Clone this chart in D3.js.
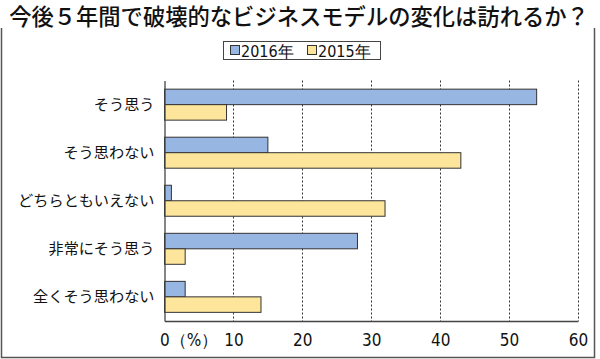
<!DOCTYPE html>
<html><head><meta charset="utf-8">
<script src="https://cdn.jsdelivr.net/npm/d3@7"></script>
<style>
body{margin:0;background:#fff;}
svg{display:block;}
</style></head>
<body>
<script>
const title = "今後５年間で破壊的なビジネスモデルの変化は訪れるか？";
const categories = ["そう思う","そう思わない","どちらともいえない","非常にそう思う","全くそう思わない"];
const seriesNames = ["2016年","2015年"];
const values2016 = [54, 15, 1, 28, 3];
const values2015 = [9, 43, 32, 3, 14];
const xTicks = [0,10,20,30,40,50,60];
const colors = ["#98b6e2","#fde59c"];

const W=600,H=359;
const svg=d3.select("body").append("svg").attr("width",W).attr("height",H);
const jp="'Noto Sans CJK JP','Noto Sans',sans-serif";
const num="'Liberation Sans Narrow','DejaVu Sans Condensed','Liberation Sans',sans-serif";

// frame
svg.append("path").attr("d","M1.5,28 V357.5 H594.5 V28").attr("fill","none").attr("stroke","#555").attr("stroke-width",1.5);

svg.append("text").attr("x",299).attr("y",25).attr("text-anchor","middle")
  .attr("font-family",jp).attr("font-size",22.3).attr("font-weight",500).attr("fill","#111").text(title);

const m={l:164.5,r:578,t:80.5,b:321};
const x=d3.scaleLinear().domain([0,60]).range([m.l,m.r]);
const y=d3.scaleBand().domain(categories).range([m.t,m.b]).paddingInner(0.355).paddingOuter(0.18);
const ys=d3.scaleBand().domain(seriesNames).range([0,y.bandwidth()]);

// grid
svg.append("g").selectAll("line").data(xTicks.slice(1)).join("line")
  .attr("x1",d=>Math.round(x(d))+0.5).attr("x2",d=>Math.round(x(d))+0.5)
  .attr("y1",m.t).attr("y2",m.b).attr("stroke","#333").attr("stroke-width",1).attr("stroke-dasharray","2,2");

// bars
const data=[values2016,values2015];
seriesNames.forEach((s,i)=>{
  svg.append("g").selectAll("rect").data(categories).join("rect")
    .attr("x",x(0)).attr("y",c=>y(c)+ys(s))
    .attr("width",(c,j)=>x(data[i][j])-x(0)).attr("height",ys.bandwidth())
    .attr("fill",colors[i]).attr("stroke","#333").attr("stroke-width",1);
});

// axes
const xa=svg.append("g").attr("transform",`translate(0,${m.b})`)
  .call(d3.axisBottom(x).tickValues(xTicks).tickSize(0).tickPadding(13).tickFormat(d=>d===0?"0（%）":d));
xa.select(".domain").attr("stroke","#444").attr("stroke-width",1.3);
xa.selectAll("text").attr("font-family",num).attr("font-size",17).attr("fill","#111");
xa.selectAll(".tick").filter(d=>d===0).select("text").attr("text-anchor","start").attr("dx",-5);

const ya=svg.append("g").attr("transform",`translate(${m.l},0)`)
  .call(d3.axisLeft(y).tickSize(0).tickPadding(10));
ya.select(".domain").attr("stroke","#444").attr("stroke-width",1.3);
ya.selectAll("text").attr("font-family",jp).attr("font-size",15.2).attr("fill","#111");

// legend
const lg=svg.append("g");
lg.append("rect").attr("x",223.5).attr("y",41.5).attr("width",157).attr("height",18).attr("fill","#fff").attr("stroke","#444");
const items=[{x:230,lx:241},{x:307,lx:318}];
seriesNames.forEach((s,i)=>{
  lg.append("rect").attr("x",items[i].x+0.5).attr("y",45.5).attr("width",9).attr("height",9)
    .attr("fill",colors[i]).attr("stroke","#333");
  lg.append("text").attr("x",items[i].lx).attr("y",56.5).attr("font-family",num).attr("font-size",16).attr("fill","#111").text(s);
});
</script>
</body></html>
